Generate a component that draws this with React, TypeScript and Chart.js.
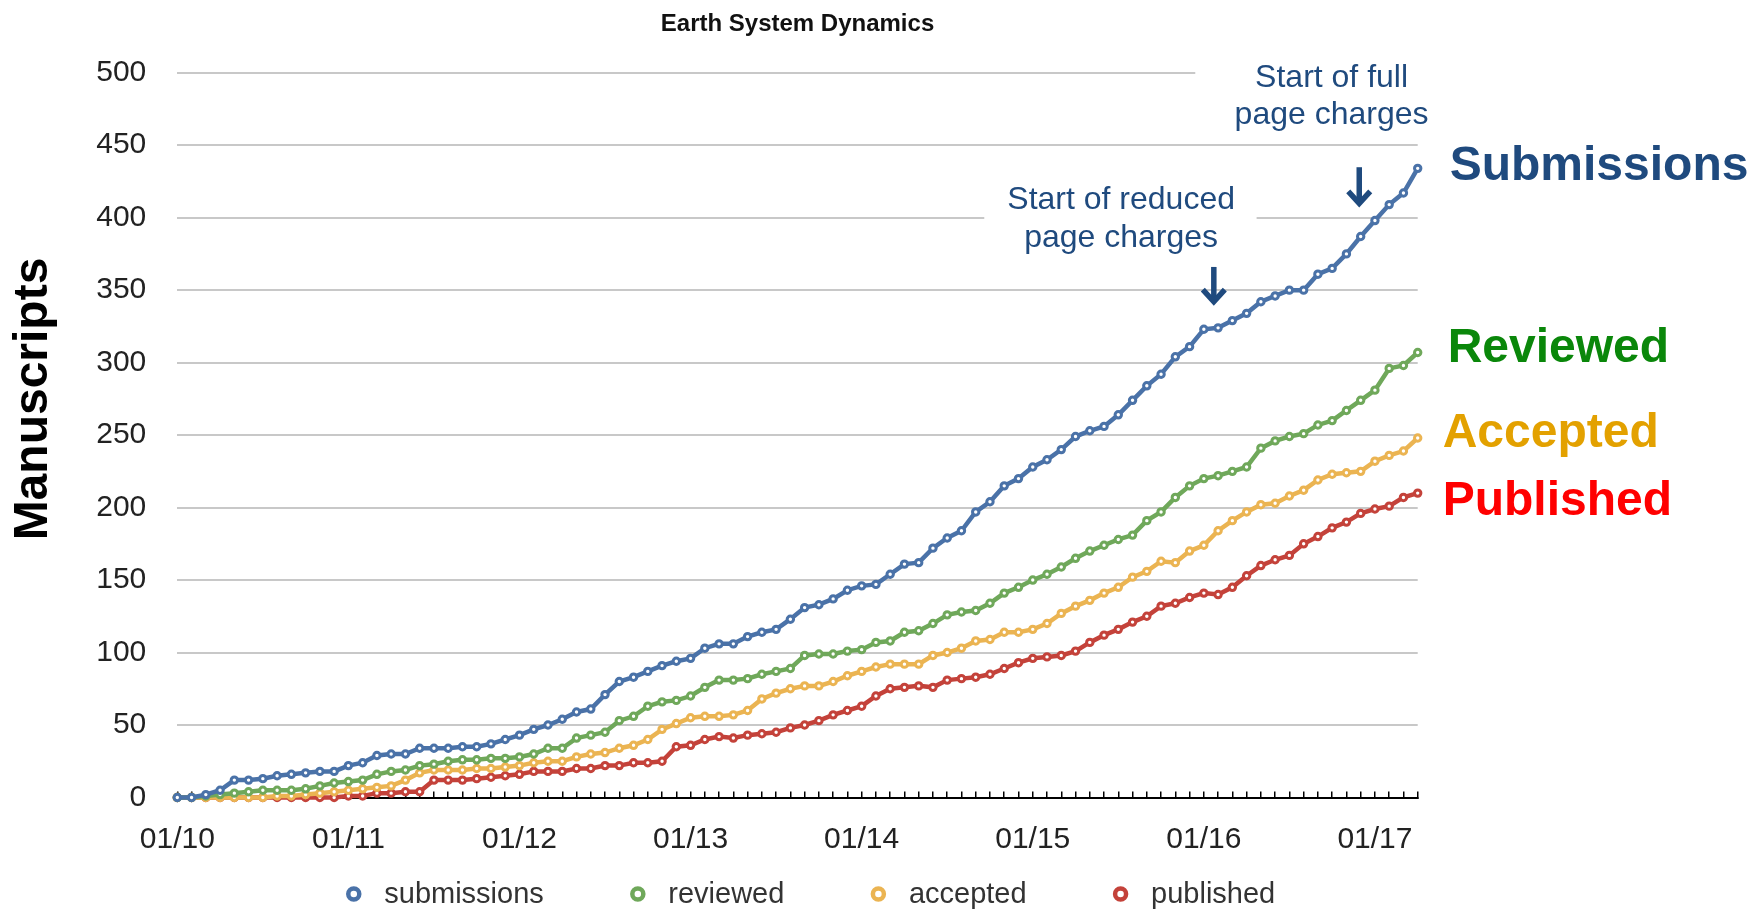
import React, { useEffect, useRef } from 'react';
import { Chart, registerables } from 'chart.js';

Chart.register(...registerables);

// ---------- data ----------
const monthLabels: string[] = [];
for (let yy = 10; yy <= 17; yy++) {
  for (let mm = 1; mm <= 12; mm++) {
    monthLabels.push(`${String(mm).padStart(2, '0')}/${yy}`);
  }
}
const categories: string[] = monthLabels.slice(0, 88); // 01/10 … 04/17

const submissions: number[] = [
  0, 0, 2, 5, 12, 12, 13, 15, 16, 17,
  18, 18, 22, 24, 29, 30, 30, 34, 34, 34,
  35, 35, 37, 40, 43, 47, 50, 54, 59, 61,
  71, 80, 83, 87, 91, 94, 96, 103, 106, 106,
  111, 114, 116, 123, 131, 133, 137, 143, 146, 147,
  154, 161, 162, 172, 179, 184, 197, 204, 215, 220,
  228, 233, 240, 249, 253, 256, 264, 274, 284, 292,
  304, 311, 323, 324, 329, 334, 342, 346, 350, 350,
  361, 365, 375, 387, 398, 409, 417, 434,
];
const reviewed: number[] = [
  0, 0, 1, 2, 3, 4, 5, 5, 5, 6,
  8, 10, 11, 12, 16, 18, 19, 22, 23, 25,
  26, 26, 27, 27, 28, 30, 34, 34, 41, 43,
  45, 53, 56, 63, 66, 67, 70, 76, 81, 81,
  82, 85, 87, 89, 98, 99, 99, 101, 102, 107,
  108, 114, 115, 120, 126, 128, 129, 134, 141, 145,
  150, 154, 159, 165, 170, 174, 178, 181, 191, 197,
  207, 215, 220, 222, 225, 228, 241, 246, 249, 251,
  257, 260, 267, 274, 281, 296, 298, 307,
];
const accepted: number[] = [
  0, 0, 0, 0, 0, 0, 0, 1, 1, 2,
  3, 4, 5, 6, 7, 8, 12, 17, 19, 19,
  19, 20, 20, 21, 22, 24, 25, 25, 28, 30,
  31, 34, 36, 40, 47, 51, 55, 56, 56, 57,
  60, 68, 72, 75, 77, 77, 80, 84, 87, 90,
  92, 92, 92, 98, 100, 103, 108, 109, 114, 114,
  116, 120, 127, 132, 136, 141, 145, 152, 156, 163,
  162, 170, 174, 184, 191, 197, 202, 203, 208, 212,
  219, 223, 224, 225, 232, 236, 239, 248,
];
const published: number[] = [
  0, 0, 0, 0, 0, 0, 0, 0, 0, 0,
  0, 0, 1, 1, 3, 3, 4, 4, 12, 12,
  12, 13, 14, 15, 16, 18, 18, 18, 20, 20,
  22, 22, 24, 24, 25, 35, 36, 40, 42, 41,
  43, 44, 45, 48, 50, 53, 57, 60, 63, 70,
  75, 76, 77, 76, 81, 82, 83, 85, 89, 93,
  96, 97, 98, 101, 107, 112, 116, 121, 125, 132,
  134, 138, 141, 140, 145, 153, 160, 164, 167, 175,
  180, 186, 190, 196, 199, 201, 207, 210,
];

const seriesNames: string[] = ['submissions', 'reviewed', 'accepted', 'published'];
const yTicks: number[] = [0, 50, 100, 150, 200, 250, 300, 350, 400, 450, 500];
const chartTitle = 'Earth System Dynamics';
const yTitle = 'Manuscripts';
const endLabels: string[] = ['Submissions', 'Reviewed', 'Accepted', 'Published'];
const noteReduced: string[] = ['Start of reduced', 'page charges'];
const noteFull: string[] = ['Start of full', 'page charges'];

// ---------- style ----------
const FONT = '"Liberation Sans", Arial, Helvetica, sans-serif';
const NAVY = '#1f4a7e';
const lineColors = ['#4a72a8', '#6fa85a', '#ebb452', '#c4423a'];
const endLabelColors = ['#1f4a7e', '#0a870a', '#e3a100', '#ff0000'];

function drawArrow(ctx: CanvasRenderingContext2D, cx: number, top: number, bottom: number) {
  ctx.save();
  ctx.strokeStyle = NAVY;
  ctx.lineWidth = 5.5;
  ctx.lineCap = 'butt';
  ctx.beginPath();
  ctx.moveTo(cx, top);
  ctx.lineTo(cx, bottom - 4);
  ctx.stroke();
  ctx.lineJoin = 'miter';
  ctx.beginPath();
  ctx.moveTo(cx - 11, bottom - 15.5);
  ctx.lineTo(cx, bottom - 3.5);
  ctx.lineTo(cx + 11, bottom - 15.5);
  ctx.stroke();
  ctx.restore();
}

const decorPlugin = {
  id: 'decor',
  beforeDatasetsDraw(chart: any) {
    const { ctx, scales } = chart;
    const x = scales.x;
    const y = scales.y;
    ctx.save();
    ctx.fillStyle = '#ffffff';
    // white box behind "Start of reduced page charges" (hides part of the 400 grid line)
    const aL = x.getPixelForValue(56.6);
    const aR = x.getPixelForValue(75.7);
    const aT = y.getPixelForValue(425);
    const aB = y.getPixelForValue(378);
    ctx.fillRect(aL, aT, aR - aL, aB - aT);
    // white box behind "Start of full page charges" (hides part of the 500 grid line)
    const bL = x.getPixelForValue(71.4);
    const bT = y.getPixelForValue(515);
    const bB = y.getPixelForValue(470);
    ctx.fillRect(bL, bT, chart.chartArea.right + 20 - bL, bB - bT);
    ctx.restore();
  },
  afterDraw(chart: any) {
    const { ctx, chartArea, scales } = chart;
    const x = scales.x;
    const y = scales.y;
    ctx.save();

    // chart title
    ctx.fillStyle = '#111';
    ctx.font = `bold 24px ${FONT}`;
    ctx.textAlign = 'center';
    ctx.textBaseline = 'middle';
    ctx.fillText(chartTitle, (chartArea.left + chartArea.right) / 2, 24);

    // y axis title
    ctx.save();
    ctx.translate(34, 399);
    ctx.rotate(-Math.PI / 2);
    ctx.font = `bold 48px ${FONT}`;
    ctx.fillStyle = '#000';
    ctx.textAlign = 'center';
    ctx.textBaseline = 'middle';
    ctx.fillText(yTitle, 0, 0);
    ctx.restore();

    // annotations
    ctx.fillStyle = NAVY;
    ctx.font = `32px ${FONT}`;
    ctx.textAlign = 'center';
    ctx.textBaseline = 'alphabetic';
    const rx = x.getPixelForValue(66.2);
    ctx.fillText(noteReduced[0], rx, y.getPixelForValue(405.7));
    ctx.fillText(noteReduced[1], rx, y.getPixelForValue(379.9));
    const fx = x.getPixelForValue(80.96);
    ctx.fillText(noteFull[0], fx, y.getPixelForValue(490.2));
    ctx.fillText(noteFull[1], fx, y.getPixelForValue(464.5));

    drawArrow(ctx, x.getPixelForValue(72.7), y.getPixelForValue(366), y.getPixelForValue(339.7));
    drawArrow(ctx, x.getPixelForValue(82.9), y.getPixelForValue(434.8), y.getPixelForValue(407.4));

    // labels at the end of the lines
    ctx.font = `bold 48px ${FONT}`;
    ctx.textAlign = 'left';
    ctx.textBaseline = 'alphabetic';
    const endVals = [426.2, 300.3, 241.7, 194.8];
    const endOffsets = [32, 30, 25, 25];
    endLabels.forEach((t, i) => {
      ctx.fillStyle = endLabelColors[i];
      ctx.fillText(t, chartArea.right + endOffsets[i], y.getPixelForValue(endVals[i]));
    });

    // legend
    ctx.font = `29px ${FONT}`;
    ctx.textBaseline = 'middle';
    ctx.textAlign = 'left';
    const ds = chart.data.datasets;
    const gap = 80;
    const widths = ds.map((d: any) => 44.5 + ctx.measureText(d.label).width);
    const total = widths.reduce((a: number, b: number) => a + b, 0) + gap * (ds.length - 1);
    let lx = (chartArea.left + chartArea.right) / 2 + 10 - total / 2;
    const ly = 894;
    ds.forEach((d: any, i: number) => {
      ctx.beginPath();
      ctx.arc(lx + 14, ly, 5.5, 0, Math.PI * 2);
      ctx.fillStyle = '#fff';
      ctx.fill();
      ctx.lineWidth = 4.5;
      ctx.strokeStyle = d.borderColor;
      ctx.stroke();
      ctx.fillStyle = '#333';
      ctx.fillText(d.label, lx + 44.5, ly + 1);
      lx += widths[i] + gap;
    });

    ctx.restore();
  },
};

export default function App() {
  const canvasRef = useRef<HTMLCanvasElement | null>(null);

  useEffect(() => {
    const canvas = canvasRef.current;
    if (!canvas) return;
    const seriesData = [submissions, reviewed, accepted, published];
    const chart = new Chart(canvas, {
      type: 'line',
      data: {
        labels: categories,
        datasets: seriesData.map((vals, i) => ({
          label: seriesNames[i],
          data: vals,
          borderColor: lineColors[i],
          backgroundColor: lineColors[i],
          borderWidth: 4.5,
          pointRadius: 3.2,
          pointBorderWidth: 3,
          pointBackgroundColor: '#ffffff',
          pointBorderColor: lineColors[i],
          tension: 0,
          fill: false,
          clip: false as any,
        })),
      },
      options: {
        animation: false,
        responsive: false,
        devicePixelRatio: 1,
        layout: { padding: { left: 0, right: 334.3, top: 72.7, bottom: 0 } },
        plugins: {
          legend: { display: false },
          title: { display: false },
          tooltip: { enabled: false },
        },
        scales: {
          x: {
            type: 'category',
            offset: false,
            grid: {
              display: true,
              drawOnChartArea: false,
              drawTicks: true,
              tickLength: -6,
              color: '#000',
              lineWidth: 1.5,
              offset: false,
            },
            border: { display: true, color: '#000', width: 2 },
            ticks: {
              autoSkip: false,
              maxRotation: 0,
              minRotation: 0,
              padding: 30,
              color: '#222',
              font: { family: FONT, size: 30 },
              callback: (_v: any, i: number) => (i % 12 === 0 ? categories[i] : ''),
            },
            afterFit: (s: any) => {
              s.height = 909 - 797.5;
            },
          },
          y: {
            min: 0,
            max: 500,
            afterBuildTicks: (s: any) => {
              s.ticks = yTicks.map((v) => ({ value: v }));
            },
            grid: { color: '#c8c8c8', lineWidth: 2, drawTicks: false },
            border: { display: false },
            ticks: {
              padding: 31,
              color: '#222',
              font: { family: FONT, size: 30 },
            },
            afterFit: (s: any) => {
              s.width = 177.3;
            },
          },
        },
      },
      plugins: [decorPlugin],
    });
    return () => chart.destroy();
  }, []);

  return (
    <div style={{ position: 'fixed', left: 0, top: 0, width: 1752, height: 909, background: '#fff' }}>
      <canvas ref={canvasRef} width={1752} height={909} style={{ display: 'block' }} />
    </div>
  );
}
